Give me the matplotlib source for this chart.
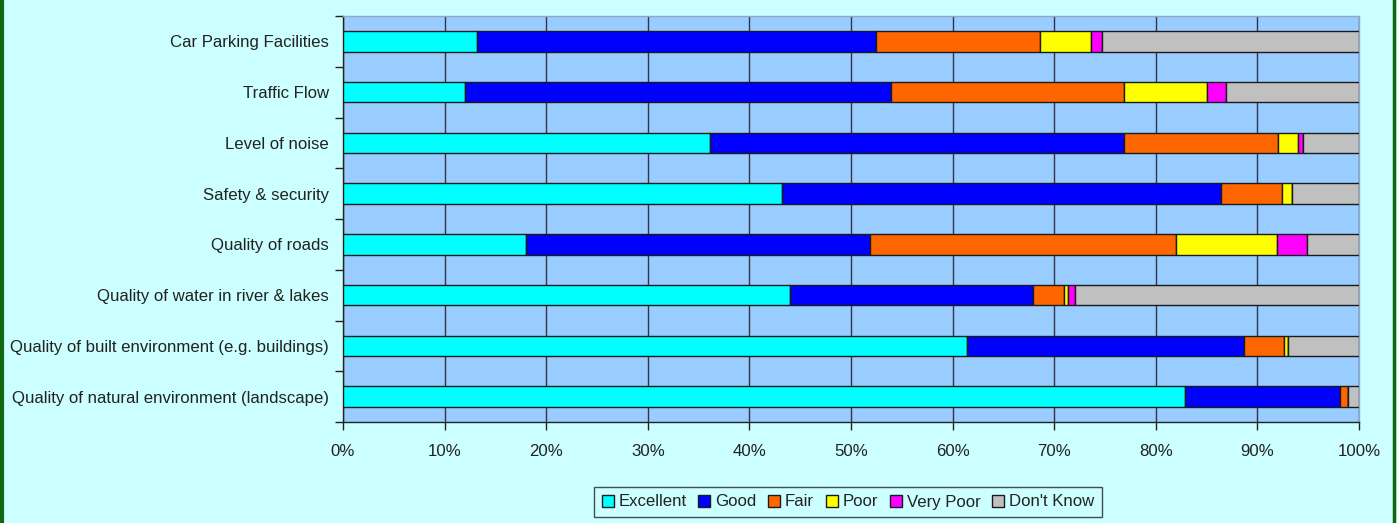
import matplotlib
matplotlib.use("Agg")
import matplotlib.pyplot as plt
from matplotlib.lines import Line2D
import numpy as np

categories = [
    "Car Parking Facilities",
    "Traffic Flow",
    "Level of noise",
    "Safety & security",
    "Quality of roads",
    "Quality of water in river & lakes",
    "Quality of built environment (e.g. buildings)",
    "Quality of natural environment (landscape)",
]
series_names = ["Excellent", "Good", "Fair", "Poor", "Very Poor", "Don't Know"]
excellent = [13.2, 12.0, 36.1, 43.2, 18.0, 44.0, 61.4, 82.9]
good      = [39.3, 41.9, 40.8, 43.2, 33.9, 23.9, 27.3, 15.2]
fair      = [16.1, 23.0, 15.1, 6.0, 30.1, 3.1, 3.9, 0.8]
poor      = [5.0, 8.1, 2.0, 1.0, 9.9, 0.4, 0.4, 0.0]
very_poor = [1.1, 1.9, 0.5, 0.0, 3.0, 0.6, 0.0, 0.0]
dont_know = [25.3, 13.1, 5.5, 6.6, 5.1, 28.0, 7.0, 1.1]
colors = ["#00FFFF", "#0000FF", "#FF6600", "#FFFF00", "#FF00FF", "#C0C0C0"]

plt.rcParams['font.family'] = ['Liberation Sans', 'DejaVu Sans']

fig = plt.figure(figsize=(13.97, 5.23), dpi=100, facecolor="#CCFFFF")
ax = fig.add_axes([343/1397, 1-422/523, (1359-343)/1397, (422-16)/523])
ax.set_facecolor("#99CCFF")

data = [excellent, good, fair, poor, very_poor, dont_know]
y = np.arange(len(categories))
left = np.zeros(len(categories))
for name, vals, col in zip(series_names, data, colors):
    vals = np.array(vals, dtype=float)
    ax.barh(y, vals, left=left, height=0.4, color=col, edgecolor="#1a1a1a",
            linewidth=1.0, label=name, zorder=3)
    left += vals

ax.set_xlim(0, 100)
ax.set_ylim(len(categories) - 0.5, -0.5)
ax.set_xticks(np.arange(0, 101, 10))
ax.set_xticklabels([f"{v}%" for v in range(0, 101, 10)])
ax.set_yticks(y)
ax.set_yticklabels(categories)
ax.set_yticks(np.arange(-0.5, len(categories)), minor=True)
ax.tick_params(axis='y', which='major', length=0, pad=10, labelsize=12.1, labelcolor="#222222")
ax.tick_params(axis='y', which='minor', length=6, width=1, color="#222222", direction='out')
ax.tick_params(axis='x', which='major', length=6, width=1, color="#222222", pad=10,
               labelsize=12.1, labelcolor="#222222")
ax.grid(axis='x', color="#333344", linewidth=1.0, zorder=1)
ax.set_axisbelow(True)
for s in ["left", "bottom"]:
    ax.spines[s].set_color("#222222")
    ax.spines[s].set_linewidth(1.0)
for s in ["top", "right"]:
    ax.spines[s].set_color("#8FA8C8")
    ax.spines[s].set_linewidth(1.0)

leg = fig.legend(loc="center", bbox_to_anchor=(848/1397, 1-502/523), ncol=6,
                 frameon=True, fancybox=False, edgecolor="#222222", facecolor="#CCFFFF",
                 fontsize=12.1, handlelength=0.7, handleheight=0.7, handletextpad=0.3,
                 columnspacing=0.7, borderpad=0.45)
leg.get_frame().set_linewidth(1.0)
for t in leg.get_texts():
    t.set_color("#222222")

# green side borders
fig.add_artist(Line2D([0.0012, 0.0012], [0, 1], transform=fig.transFigure, color="#116611", linewidth=3))
fig.add_artist(Line2D([1394/1397, 1394/1397], [0, 1], transform=fig.transFigure, color="#116611", linewidth=2.5))

fig.savefig("out.png", dpi=100, facecolor=fig.get_facecolor())
